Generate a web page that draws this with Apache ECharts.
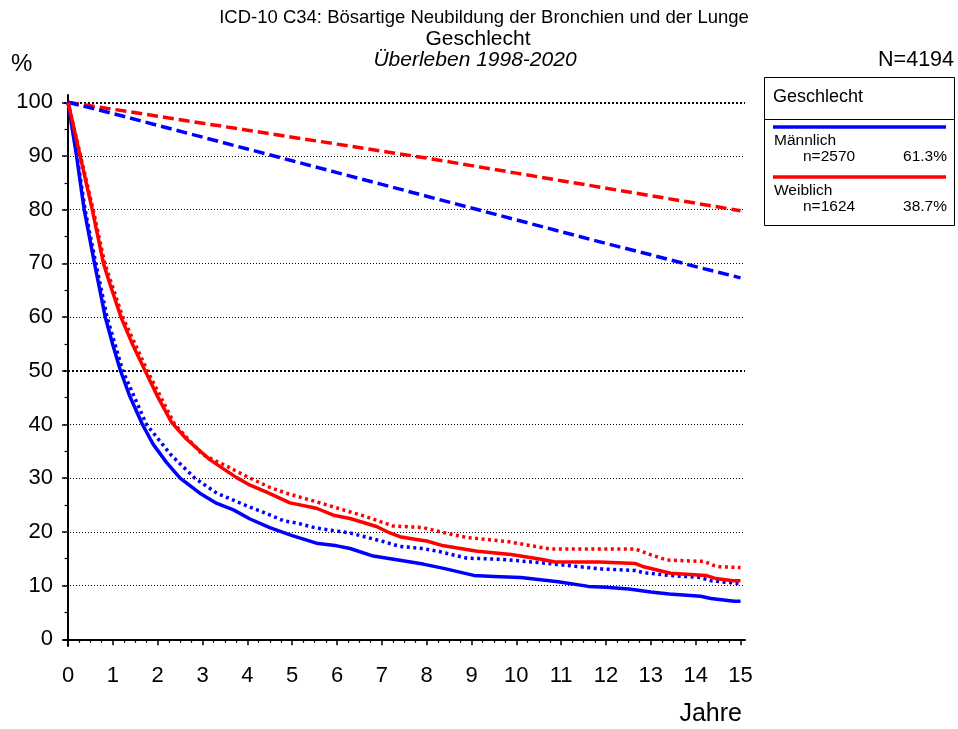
<!DOCTYPE html>
<html>
<head>
<meta charset="utf-8">
<title>ICD-10 C34 Überleben</title>
<script src="https://cdn.jsdelivr.net/npm/echarts@6/dist/echarts.min.js"></script>
<style>
  html, body { margin: 0; padding: 0; background: #fff; }
  #chart { width: 958px; height: 729px; }
</style>
</head>
<body>
<div id="chart"></div>
<script>
// ---- data ----
const xTicks = [0, 1, 2, 3, 4, 5, 6, 7, 8, 9, 10, 11, 12, 13, 14, 15]
const yTicks = [0, 10, 20, 30, 40, 50, 60, 70, 80, 90, 100]
const yMinorTicks = [5, 15, 25, 35, 45, 55, 65, 75, 85, 95]
const gridLevels = [10, 20, 30, 40, 50, 60, 70, 80, 90, 100]
const boldLevels = [50, 100]

// expected survival (dashed), one value per year
const expYears = [0, 1, 2, 3, 4, 5, 6, 7, 8, 9, 10, 11, 12, 13, 14, 15]
const maleExp = [100, 97.9, 95.7, 93.5, 91.3, 89.1, 86.9, 84.7, 82.5, 80.3, 78.1, 75.9, 73.7, 71.6, 69.4, 67.3]
const femaleExp = [100, 98.7, 97.4, 96.1, 94.8, 93.5, 92.2, 90.9, 89.6, 88.2, 86.8, 85.4, 84.0, 82.6, 81.2, 79.8]

// observed survival (solid)
const maleObsT = [0, 0.19, 0.36, 0.59, 0.71, 0.83, 1.0, 1.17, 1.38, 1.66, 1.9, 2.2, 2.5, 2.94, 3.32, 3.69, 4.06, 4.5, 5.0, 5.54, 6.0, 6.29, 6.81, 7.4, 7.92, 8.38, 9.05, 9.5, 10.1, 10.93, 11.61, 12.0, 12.51, 13.0, 13.41, 14.11, 14.34, 14.86, 15]
const maleObs = [100, 90, 80, 70, 65, 60, 54.8, 50, 45.2, 40, 36.3, 32.9, 30, 27.2, 25.3, 24.1, 22.4, 20.8, 19.3, 17.9, 17.4, 16.9, 15.5, 14.7, 14.0, 13.2, 11.9, 11.7, 11.5, 10.7, 9.85, 9.7, 9.35, 8.8, 8.45, 8.0, 7.6, 7.1, 7.1]
const femaleObsT = [0, 0.27, 0.54, 0.79, 0.94, 1.18, 1.46, 1.72, 2.01, 2.31, 2.64, 3.17, 3.76, 4.06, 4.43, 4.95, 5.54, 5.92, 6.29, 6.88, 7.18, 7.4, 7.77, 8.0, 8.38, 9.13, 9.88, 10.55, 10.86, 11.86, 12.66, 12.84, 13.44, 14.23, 14.45, 14.83, 15]
const femaleObs = [100, 90, 80, 70, 66, 60, 54.5, 50, 45.0, 40.4, 37.3, 33.4, 30.1, 28.7, 27.4, 25.4, 24.4, 23.1, 22.5, 21.0, 19.8, 19.1, 18.6, 18.3, 17.4, 16.4, 15.8, 14.9, 14.4, 14.4, 14.1, 13.5, 12.3, 11.9, 11.3, 10.9, 10.9]

// relative survival (dotted)
const maleRelT = [0, 0.2, 0.38, 0.62, 0.87, 1.22, 1.75, 2.3, 2.83, 3.32, 3.69, 4.06, 4.43, 4.8, 5.13, 5.54, 6.29, 7.03, 7.4, 7.92, 8.3, 8.9, 9.65, 10.55, 11.3, 11.9, 12.66, 12.84, 13.41, 14.1, 14.34, 14.46, 15]
const maleRel = [100, 90, 80, 70, 60, 50, 40, 34.3, 30, 27.2, 25.9, 24.6, 23.4, 22.1, 21.6, 20.7, 19.8, 18.2, 17.3, 16.9, 16.3, 15.1, 14.9, 14.25, 13.6, 13.1, 12.8, 12.4, 11.9, 11.5, 10.9, 10.8, 10.35]
const femaleRelT = [0, 0.28, 0.56, 0.82, 1.22, 1.77, 2.38, 3.0, 3.5, 4.06, 4.5, 4.87, 5.54, 6.14, 6.66, 7.25, 7.92, 8.16, 8.52, 8.9, 9.8, 10.55, 10.78, 12.66, 12.99, 13.36, 14.19, 14.42, 14.53, 15]
const femaleRel = [100, 90, 80, 70, 60, 50, 40, 34.4, 32.4, 30.0, 28.3, 27.2, 25.6, 24.1, 22.8, 21.1, 20.8, 20.3, 19.6, 18.95, 18.2, 17.1, 16.8, 16.8, 15.75, 14.75, 14.5, 13.7, 13.5, 13.35]

const legendTitle = 'Geschlecht'
const legendNames = ['Männlich', 'Weiblich']
const legendN = ['n=2570', 'n=1624']
const legendPct = ['61.3%', '38.7%']
const colors = ['#0000ff', '#ff0000']

const FONT = '"Liberation Sans", Arial, Helvetica, sans-serif'

function pairs(t, v) {
  return t.map(function(x, i) { return [x, v[i]] })
}

// quarter-year minor ticks between the integer ticks
const xMinorTicks = []
xTicks.slice(0, -1).forEach(function(t) {
  xMinorTicks.push(t + 0.25, t + 0.5, t + 0.75)
})

const chart = echarts.init(document.getElementById('chart'), null, { renderer: 'canvas' })

function curve(name, data, color, dash, z) {
  return {
    name: name,
    type: 'line',
    data: data,
    showSymbol: false,
    symbol: 'none',
    z: z,
    silent: true,
    lineStyle: { color: color, width: 3.5, type: dash, cap: 'butt', join: 'round' }
  }
}

const text = function(str, x, y, size, align, weight) {
  return {
    type: 'text',
    x: x,
    y: y,
    silent: true,
    style: {
      text: str,
      font: (weight || 'normal') + ' ' + size + 'px ' + FONT,
      fill: '#000',
      align: align || 'left',
      verticalAlign: 'middle'
    }
  }
}

// legend box on the right
const legendX = 764.5
const legendY = 77.5
const legendGraphics = [
  { type: 'rect', shape: { x: legendX, y: legendY, width: 190, height: 148 }, style: { fill: '#fff', stroke: '#000', lineWidth: 1 }, silent: true },
  { type: 'line', shape: { x1: legendX, y1: 119.5, x2: legendX + 190, y2: 119.5 }, style: { stroke: '#000', lineWidth: 1 }, silent: true },
  text(legendTitle, 773, 97, 18)
]
legendNames.forEach(function(name, i) {
  const y0 = 127 + i * 50
  legendGraphics.push(
    { type: 'line', shape: { x1: 773, y1: y0, x2: 946, y2: y0 }, style: { stroke: colors[i], lineWidth: 3.5 }, silent: true },
    text(name, 774, y0 + 14, 15.5),
    text(legendN[i], 803, y0 + 30, 15.5),
    text(legendPct[i], 947, y0 + 30, 15.5, 'right')
  )
})

const titleGraphics = [
  text('ICD-10 C34: Bösartige Neubildung der Bronchien und der Lunge', 484, 18, 18.5, 'center'),
  text('Geschlecht', 478, 39, 21, 'center'),
  text('Überleben 1998-2020', 475, 60, 21, 'center', 'italic'),
  text('%', 11, 64, 24),
  text('N=4194', 954, 60, 21.5, 'right'),
  text('Jahre', 742, 714, 25, 'right')
]

const xRange = { min: -0.09, max: 15.1 }
const yRange = { min: -1.25, max: 101.35 }

chart.setOption({
  animation: false,
  backgroundColor: '#fff',
  grid: { left: 64, top: 95, width: 681, height: 551, containLabel: false },
  xAxis: [{
    type: 'value',
    position: 'bottom',
    min: xRange.min,
    max: xRange.max,
    axisLine: { show: true, lineStyle: { color: '#000', width: 2 } },
    axisTick: { show: true, customValues: xTicks, length: 6, lineStyle: { color: '#000', width: 1.5 } },
    axisLabel: { customValues: xTicks, color: '#000', fontSize: 22, fontFamily: FONT, margin: 19 },
    splitLine: { show: false }
  }, {
    type: 'value',
    position: 'bottom',
    min: xRange.min,
    max: xRange.max,
    axisLine: { show: false },
    axisTick: { show: true, customValues: xMinorTicks, length: 3.5, lineStyle: { color: '#000', width: 1.2 } },
    axisLabel: { show: false },
    splitLine: { show: false }
  }],
  yAxis: [{
    type: 'value',
    position: 'left',
    min: yRange.min,
    max: yRange.max,
    axisLine: { show: true, lineStyle: { color: '#000', width: 2 } },
    axisTick: { show: true, customValues: yTicks, length: 6, lineStyle: { color: '#000', width: 1.5 } },
    axisLabel: { customValues: yTicks, color: '#000', fontSize: 22, fontFamily: FONT, margin: 11 },
    splitLine: { show: false }
  }, {
    type: 'value',
    position: 'left',
    min: yRange.min,
    max: yRange.max,
    axisLine: { show: false },
    axisTick: { show: true, customValues: yMinorTicks, length: 3.5, lineStyle: { color: '#000', width: 1.2 } },
    axisLabel: { show: false },
    splitLine: { show: false }
  }],
  series: [
    {
      // horizontal dotted reference lines
      name: 'grid',
      type: 'line',
      data: [],
      z: 1,
      silent: true,
      markLine: {
        silent: true,
        z: 1,
        symbol: ['none', 'none'],
        label: { show: false },
        animation: false,
        data: gridLevels.map(function(v) {
          const bold = boldLevels.indexOf(v) >= 0
          return {
            yAxis: v,
            lineStyle: { color: '#000', width: bold ? 2 : 1, type: bold ? [2, 2] : [1, 2] }
          }
        })
      }
    },
    curve('Weiblich erwartet', pairs(expYears, femaleExp), colors[1], [11, 5], 3),
    curve('Männlich erwartet', pairs(expYears, maleExp), colors[0], [11, 5], 3),
    curve('Weiblich relativ', pairs(femaleRelT, femaleRel), colors[1], [3, 3.5], 3),
    curve('Männlich relativ', pairs(maleRelT, maleRel), colors[0], [3, 3.5], 3),
    curve('Männlich', pairs(maleObsT, maleObs), colors[0], 'solid', 4),
    curve('Weiblich', pairs(femaleObsT, femaleObs), colors[1], 'solid', 4)
  ],
  graphic: titleGraphics.concat(legendGraphics)
})
</script>
</body>
</html>
